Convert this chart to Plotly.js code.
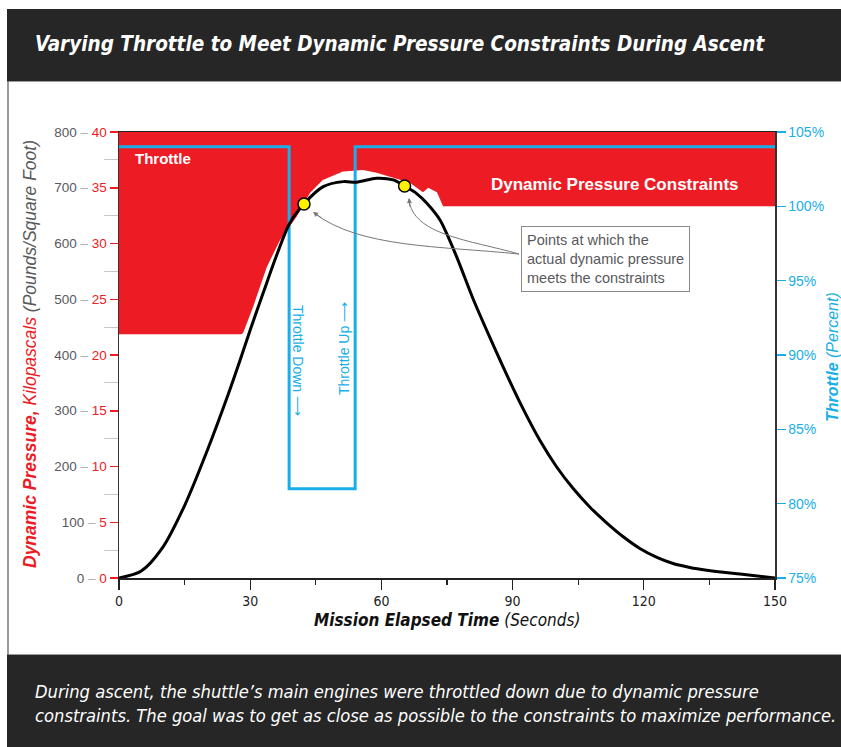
<!DOCTYPE html>
<html><head><meta charset="utf-8">
<script src="https://cdn.plot.ly/plotly-3.0.1.min.js"></script>
<style>html,body{margin:0;padding:0;background:#fff;}#chart{width:841px;height:747px;}</style>
</head><body><div id="chart"></div>
<script>
// ---------------- data ----------------
const timeSec        = [0, 5, 10, 15, 20, 25, 27.7, 30, 33, 36, 39, 42.3, 46.7, 51.3, 54.3, 58.9, 62.7, 65.3, 68, 70.4, 73.4, 77, 81, 85, 88.7, 92.5, 96.3, 100, 103.9, 107.7, 111.5, 115.3, 119.1, 123, 126.7, 130.5, 134.4, 142, 150];
const dynPressurePsf = [0, 12, 55, 130, 225, 330, 391, 445, 512, 578, 636, 671, 702, 711, 710, 717, 714, 703, 690, 672, 642, 580, 500, 428, 364, 302, 246, 200, 160, 127, 99, 74, 53, 37, 26, 19, 14, 7, 0];
const constraintTime = [0, 28, 28.4, 30.7, 33.8, 36.8, 40.6, 43.7, 46.6, 51.2, 55.8, 58.9, 62.7, 66.5, 69.5, 70.7, 72.7, 74.1, 150];
const constraintPsf  = [437, 437, 440, 487, 558, 606, 648, 691, 714, 729, 732, 727, 718, 709, 692, 700, 692, 667, 667];
const throttleTime   = [0, 38.9, 38.9, 54, 54, 150];
const throttlePct    = [104, 104, 81, 81, 104, 104];
const meetTime       = [42.3, 65.3];
const meetPsf        = [671, 703];
const xTicks         = [0, 30, 60, 90, 120, 150];
const xMinorTicks    = [15, 45, 75, 105, 135];
const psfTicks       = [0, 100, 200, 300, 400, 500, 600, 700, 800];
const kpaTicks       = [0, 5, 10, 15, 20, 25, 30, 35, 40];
const psfMinorTicks  = [50, 150, 250, 350, 450, 550, 650, 750];
const throttleTicks  = [75, 80, 85, 90, 95, 100, 105];
const xRange = [0, 150], psfRange = [0, 800], throttleRange = [75, 105];

// ---------------- geometry helpers ----------------
const W = 841, H = 747, ML = 119, MR = 66, MT = 132, MB = 169;
const PW = W - ML - MR, PH = H - MT - MB;
const px = v => (v - ML) / PW;
const py = v => (H - MB - v) / PH;
const P = (x, y) => px(x) + ',' + py(y);

const RED = '#ED1C24', CYAN = '#19AEE8', DARK = '#262626';
const SANS = '"Liberation Sans", Arial, Helvetica, sans-serif';
const NARROW = '"Liberation Sans Narrow", "Arial Narrow", "DejaVu Sans Condensed", "Liberation Sans", Arial, sans-serif';
const ARROW = '⟶';

// constraint region path (data coords) built from the arrays
let consPath = 'M ' + constraintTime[0] + ',' + constraintPsf[0];
for (let i = 1; i < constraintTime.length; i++) consPath += ' L ' + constraintTime[i] + ',' + constraintPsf[i];
consPath += ' L ' + xRange[1] + ',' + psfRange[1] + ' L ' + xRange[0] + ',' + psfRange[1] + ' Z';

const psfTickText = psfTicks.map((v, i) =>
  '<span style="color:#58595B">' + v + '</span><span style="color:#B0B0B0"> – </span><span style="color:' + RED + '">' + kpaTicks[i] + '</span>');
const throttleTickText = throttleTicks.map(v => v + '%');

const traces = [
  { x: throttleTime, y: throttlePct, yaxis: 'y', mode: 'lines',
    line: { color: CYAN, width: 3 }, hoverinfo: 'skip', showlegend: false },
  { x: timeSec, y: dynPressurePsf, yaxis: 'y2', mode: 'lines',
    line: { color: '#000', width: 3, shape: 'spline', smoothing: 0.8 }, hoverinfo: 'skip', showlegend: false },
  { x: meetTime, y: meetPsf, yaxis: 'y2', mode: 'markers',
    marker: { size: 12, color: '#FFF200', line: { color: '#000', width: 1.5 } }, hoverinfo: 'skip', showlegend: false }
];

const layout = {
  width: W, height: H,
  margin: { l: ML, r: MR, t: MT, b: MB, pad: 0 },
  paper_bgcolor: '#fff', plot_bgcolor: '#fff',
  showlegend: false,
  font: { family: SANS, size: 13, color: '#222' },
  xaxis: {
    range: xRange, showgrid: false, zeroline: false,
    showline: true, linecolor: '#222', linewidth: 1.5, mirror: true,
    tickmode: 'array', tickvals: xTicks, ticks: 'outside', ticklen: 10, tickwidth: 1.2, tickcolor: '#222',
    tickfont: { family: NARROW, size: 14, color: '#222' },
    minor: { tickmode: 'array', tickvals: xMinorTicks, ticks: 'outside', ticklen: 5, tickwidth: 1.2, tickcolor: '#222' }
  },
  yaxis: {
    range: throttleRange, side: 'right', showgrid: false, zeroline: false,
    showline: true, linecolor: '#333', linewidth: 1.5,
    tickmode: 'array', tickvals: throttleTicks, ticktext: throttleTickText, ticks: 'outside', ticklen: 9, tickwidth: 1.5, tickcolor: CYAN,
    tickfont: { family: SANS, size: 14, color: CYAN }
  },
  yaxis2: {
    range: psfRange, overlaying: 'y', side: 'left', showgrid: false, zeroline: false,
    showline: true, linecolor: '#333', linewidth: 1.5,
    tickmode: 'array', tickvals: psfTicks, ticktext: psfTickText, ticks: 'outside', ticklen: 8, tickwidth: 1.5, tickcolor: RED,
    tickfont: { family: SANS, size: 13.5, color: RED },
    minor: { tickmode: 'array', tickvals: psfMinorTicks, ticks: 'outside', ticklen: 14, tickwidth: 1, tickcolor: '#C8C8C8' }
  },
  shapes: [
    { type: 'path', xref: 'x', yref: 'y2', path: consPath, fillcolor: RED, line: { width: 0 }, layer: 'below' },
    { type: 'rect', xref: 'paper', yref: 'paper', x0: px(7), x1: px(845), y0: py(81), y1: py(9), fillcolor: DARK, line: { width: 0 }, layer: 'above' },
    { type: 'rect', xref: 'paper', yref: 'paper', x0: px(7), x1: px(845), y0: py(750), y1: py(655), fillcolor: DARK, line: { width: 0 }, layer: 'above' },
    { type: 'line', xref: 'paper', yref: 'paper', x0: px(7), x1: px(845), y0: py(81.5), y1: py(81.5), line: { color: '#9a9a9a', width: 1 } },
    { type: 'line', xref: 'paper', yref: 'paper', x0: px(7), x1: px(845), y0: py(654.5), y1: py(654.5), line: { color: '#9a9a9a', width: 1 } },
    { type: 'line', xref: 'paper', yref: 'paper', x0: px(8), x1: px(8), y0: py(81), y1: py(655), line: { color: '#555', width: 1.2 } },
    { type: 'path', xref: 'paper', yref: 'paper', path: 'M ' + P(519, 254) + ' C ' + P(440, 246) + ' ' + P(360, 248) + ' ' + P(314, 213), line: { color: '#777', width: 1 } },
    { type: 'path', xref: 'paper', yref: 'paper', path: 'M ' + P(519, 254) + ' C ' + P(470, 240) + ' ' + P(412, 235) + ' ' + P(409, 199), line: { color: '#777', width: 1 } }
  ],
  annotations: [
    { xref: 'paper', yref: 'paper', x: px(33), y: py(44), xanchor: 'left', yanchor: 'middle', showarrow: false,
      text: '<b><i>Varying Throttle to Meet Dynamic Pressure Constraints During Ascent</i></b>',
      font: { family: NARROW, size: 20.5, color: '#fff' } },
    { xref: 'paper', yref: 'paper', x: px(33), y: py(703), xanchor: 'left', yanchor: 'middle', showarrow: false, align: 'left',
      text: '<i>During ascent, the shuttle’s main engines were throttled down due to dynamic pressure<br>constraints. The goal was to get as close as possible to the constraints to maximize performance.</i>',
      font: { family: NARROW, size: 18.2, color: '#fff' } },
    { xref: 'paper', yref: 'paper', x: px(133), y: py(158.5), xanchor: 'left', yanchor: 'middle', showarrow: false,
      text: '<b>Throttle</b>', font: { family: SANS, size: 15, color: '#fff' } },
    { xref: 'paper', yref: 'paper', x: px(614.5), y: py(184), xanchor: 'center', yanchor: 'middle', showarrow: false,
      text: '<b>Dynamic Pressure Constraints</b>', font: { family: SANS, size: 17, color: '#fff' } },
    { xref: 'paper', yref: 'paper', x: px(605.5), y: py(259), xanchor: 'center', yanchor: 'middle', showarrow: false, align: 'left',
      text: 'Points at which the<br>actual dynamic pressure<br>meets the constraints',
      font: { family: SANS, size: 14.5, color: '#58595B' }, bordercolor: '#8a8a8a', borderwidth: 1, borderpad: 5, bgcolor: '#fff' },
    { xref: 'paper', yref: 'paper', x: px(298), y: py(360), xanchor: 'center', yanchor: 'middle', showarrow: false, textangle: 90,
      text: 'Throttle Down ' + ARROW, font: { family: SANS, size: 14, color: CYAN } },
    { xref: 'paper', yref: 'paper', x: px(344), y: py(349), xanchor: 'center', yanchor: 'middle', showarrow: false, textangle: -90,
      text: 'Throttle Up ' + ARROW, font: { family: SANS, size: 14, color: CYAN } },
    { xref: 'paper', yref: 'paper', x: px(313), y: py(212), ax: 10, ay: 7, showarrow: true, text: '', arrowhead: 2, arrowsize: 1, arrowwidth: 1, arrowcolor: '#777' },
    { xref: 'paper', yref: 'paper', x: px(409), y: py(198), ax: 1, ay: 10, showarrow: true, text: '', arrowhead: 2, arrowsize: 1, arrowwidth: 1, arrowcolor: '#777' },
    { xref: 'paper', yref: 'paper', x: px(30), y: py(354), xanchor: 'center', yanchor: 'middle', showarrow: false, textangle: -90,
      text: '<b><i>Dynamic Pressure,</i></b><i> Kilopascals </i><span style="color:#58595B"><i>(Pounds/Square Foot)</i></span>',
      font: { family: SANS, size: 17.5, color: RED } },
    { xref: 'paper', yref: 'paper', x: px(832), y: py(357), xanchor: 'center', yanchor: 'middle', showarrow: false, textangle: -90,
      text: '<b><i>Throttle</i></b><i> (Percent)</i>', font: { family: SANS, size: 16, color: CYAN } },
    { xref: 'paper', yref: 'paper', x: px(447), y: py(620), xanchor: 'center', yanchor: 'middle', showarrow: false,
      text: '<b><i>Mission Elapsed Time</i></b><i> (Seconds)</i>', font: { family: NARROW, size: 17, color: '#111' } }
  ]
};

Plotly.newPlot('chart', traces, layout, { staticPlot: true, displayModeBar: false });
</script>
</body></html>
